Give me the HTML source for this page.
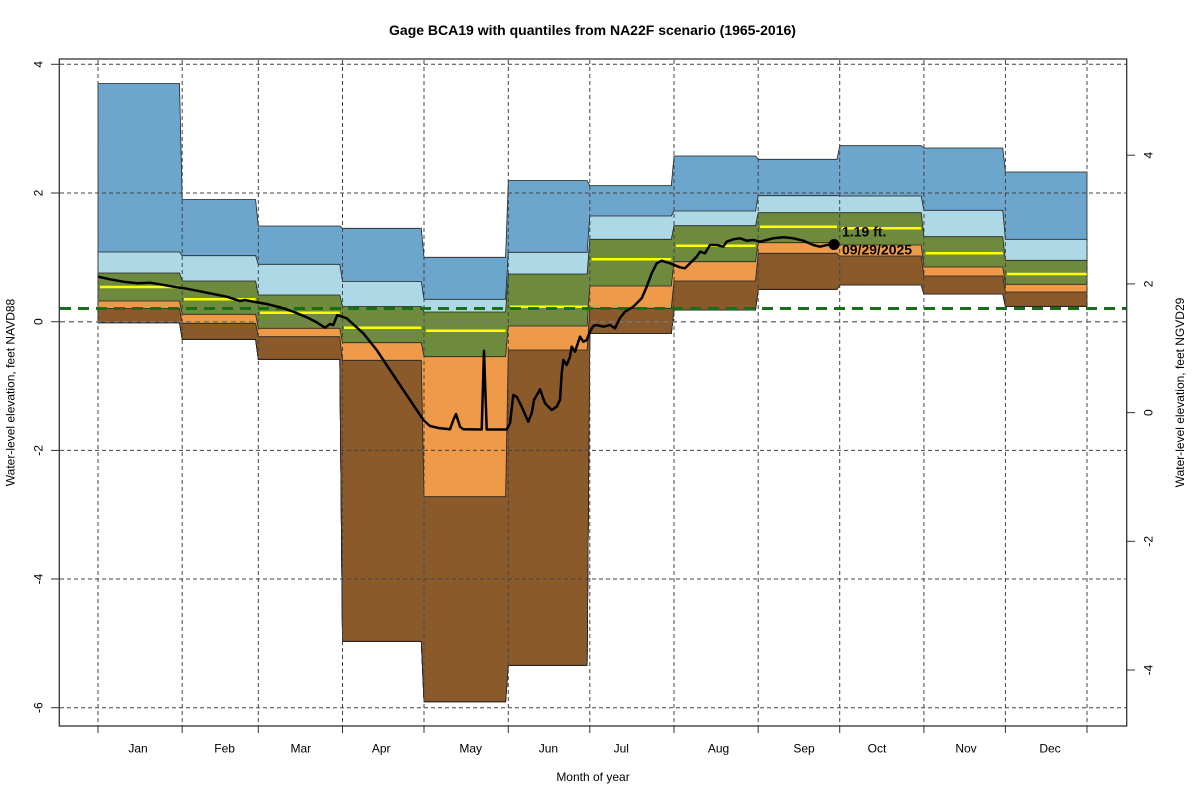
<!DOCTYPE html>
<html>
<head>
<meta charset="utf-8">
<style>
  html,body{margin:0;padding:0;background:#fff;}
  svg{display:block;}
  text{font-family:"Liberation Sans",Arial,sans-serif;fill:#000;}
</style>
</head>
<body>
<svg width="1200" height="800" viewBox="0 0 1200 800" xmlns="http://www.w3.org/2000/svg">
  <rect x="0" y="0" width="1200" height="800" fill="#fff"/>

  <!-- Bands -->
  <g stroke="#222" stroke-width="0.8" stroke-linejoin="miter">
    <polygon fill="#6CA6CD" points="98,83.5 179.5,83.5 182.2,199.5 255.6,199.5 258.3,226 339.8,226 342.5,228.3 421.3,228.3 424,257.3 505.6,257.3 508.3,180.5 587.1,180.5 589.8,185.7 671.3,185.7 674,156 755.5,156 758.2,159.3 837,159.3 839.7,145.7 921.2,145.7 923.9,148 1002.8,148 1005.4,172 1087,172 1087,306.3 1005.4,306.3 1002.8,294 923.9,294 921.2,285 839.7,285 837,289.3 758.2,289.3 755.5,310 674,310 671.3,333.5 589.8,333.5 587.1,665.3 508.3,665.3 505.6,701.7 424,701.7 421.3,641.3 342.5,641.3 339.8,359.3 258.3,359.3 255.6,339.3 182.2,339.3 179.5,322.7 98,322.7"/>
    <polygon fill="#ADD8E6" points="98,252 179.5,252 182.2,255.7 255.6,255.7 258.3,264.3 339.8,264.3 342.5,281.5 421.3,281.5 424,299.3 505.6,299.3 508.3,252.3 587.1,252.3 589.8,216 671.3,216 674,211 755.5,211 758.2,195.7 837,195.7 839.7,196 921.2,196 923.9,210.3 1002.8,210.3 1005.4,239.3 1087,239.3 1087,306.3 1005.4,306.3 1002.8,294 923.9,294 921.2,285 839.7,285 837,289.3 758.2,289.3 755.5,310 674,310 671.3,333.5 589.8,333.5 587.1,665.3 508.3,665.3 505.6,701.7 424,701.7 421.3,641.3 342.5,641.3 339.8,359.3 258.3,359.3 255.6,339.3 182.2,339.3 179.5,322.7 98,322.7"/>
    <polygon fill="#6E8B3D" points="98,273 179.5,273 182.2,281 255.6,281 258.3,295 339.8,295 342.5,306.5 421.3,306.5 424,312 505.6,312 508.3,274 587.1,274 589.8,239.3 671.3,239.3 674,225.7 755.5,225.7 758.2,212.7 837,212.7 839.7,212.7 921.2,212.7 923.9,236.7 1002.8,236.7 1005.4,260.3 1087,260.3 1087,306.3 1005.4,306.3 1002.8,294 923.9,294 921.2,285 839.7,285 837,289.3 758.2,289.3 755.5,310 674,310 671.3,333.5 589.8,333.5 587.1,665.3 508.3,665.3 505.6,701.7 424,701.7 421.3,641.3 342.5,641.3 339.8,359.3 258.3,359.3 255.6,339.3 182.2,339.3 179.5,322.7 98,322.7"/>
    <polygon fill="#EE9A49" points="98,301 179.5,301 182.2,314.3 255.6,314.3 258.3,328.3 339.8,328.3 342.5,342.7 421.3,342.7 424,356.7 505.6,356.7 508.3,326 587.1,326 589.8,286 671.3,286 674,261.7 755.5,261.7 758.2,242.7 837,242.7 839.7,245 921.2,245 923.9,267 1002.8,267 1005.4,284.3 1087,284.3 1087,306.3 1005.4,306.3 1002.8,294 923.9,294 921.2,285 839.7,285 837,289.3 758.2,289.3 755.5,310 674,310 671.3,333.5 589.8,333.5 587.1,665.3 508.3,665.3 505.6,701.7 424,701.7 421.3,641.3 342.5,641.3 339.8,359.3 258.3,359.3 255.6,339.3 182.2,339.3 179.5,322.7 98,322.7"/>
    <polygon fill="#8B5A2B" points="98,308.5 179.5,308.5 182.2,323.3 255.6,323.3 258.3,336.7 339.8,336.7 342.5,360.3 421.3,360.3 424,496.7 505.6,496.7 508.3,350 587.1,350 589.8,308.3 671.3,308.3 674,281 755.5,281 758.2,253.3 837,253.3 839.7,256 921.2,256 923.9,276 1002.8,276 1005.4,292 1087,292 1087,306.3 1005.4,306.3 1002.8,294 923.9,294 921.2,285 839.7,285 837,289.3 758.2,289.3 755.5,310 674,310 671.3,333.5 589.8,333.5 587.1,665.3 508.3,665.3 505.6,701.7 424,701.7 421.3,641.3 342.5,641.3 339.8,359.3 258.3,359.3 255.6,339.3 182.2,339.3 179.5,322.7 98,322.7"/>
  </g>

  <!-- Median lines -->
  <g stroke="#FFFF00" stroke-width="2.5">
    <line x1="100" y1="287" x2="179.5" y2="287"/>
    <line x1="184" y1="299.3" x2="255.6" y2="299.3"/>
    <line x1="260" y1="312.7" x2="339.8" y2="312.7"/>
    <line x1="344" y1="327.7" x2="421.3" y2="327.7"/>
    <line x1="426" y1="330.7" x2="505.6" y2="330.7"/>
    <line x1="510" y1="306.7" x2="587.1" y2="306.7"/>
    <line x1="591.5" y1="259.3" x2="671.3" y2="259.3"/>
    <line x1="676" y1="245.7" x2="755.5" y2="245.7"/>
    <line x1="760" y1="226.7" x2="837" y2="226.7"/>
    <line x1="841.5" y1="228.3" x2="921.2" y2="228.3"/>
    <line x1="925.5" y1="253.3" x2="1002.8" y2="253.3"/>
    <line x1="1007" y1="274" x2="1087" y2="274"/>
  </g>

  <!-- Grid -->
  <g stroke="#444" stroke-width="1" stroke-dasharray="4,3" fill="none">
    <line x1="60" y1="64.3" x2="1126" y2="64.3"/>
    <line x1="60" y1="193" x2="1126" y2="193"/>
    <line x1="60" y1="450.4" x2="1126" y2="450.4"/>
    <line x1="60" y1="579" x2="1126" y2="579"/>
    <line x1="60" y1="707.7" x2="1126" y2="707.7"/>
    <line x1="98" y1="60" x2="98" y2="726"/>
    <line x1="182.2" y1="60" x2="182.2" y2="726"/>
    <line x1="258.3" y1="60" x2="258.3" y2="726"/>
    <line x1="342.5" y1="60" x2="342.5" y2="726"/>
    <line x1="424" y1="60" x2="424" y2="726"/>
    <line x1="508.3" y1="60" x2="508.3" y2="726"/>
    <line x1="589.8" y1="60" x2="589.8" y2="726"/>
    <line x1="674" y1="60" x2="674" y2="726"/>
    <line x1="758.2" y1="60" x2="758.2" y2="726"/>
    <line x1="839.7" y1="60" x2="839.7" y2="726"/>
    <line x1="923.9" y1="60" x2="923.9" y2="726"/>
    <line x1="1005.4" y1="60" x2="1005.4" y2="726"/>
    <line x1="1087" y1="60" x2="1087" y2="726"/>
  </g>
  <line x1="60" y1="321.7" x2="1126" y2="321.7" stroke="#777" stroke-width="1.5" stroke-dasharray="5,4"/>

  <!-- Green dashed reference line -->
  <line x1="60" y1="308.5" x2="1126" y2="308.5" stroke="#1a6e1a" stroke-width="3" stroke-dasharray="11,7"/>

  <!-- Water level line -->
  <polyline fill="none" stroke="#000" stroke-width="2.5" stroke-linejoin="round" points="98.3,276.7 110,279.3 123.3,281.7 136.7,283.3 150,282.7 160,284.3 173.3,286.7 186.7,288.7 200,291.3 213.3,294 226.7,296.7 240,301 245,300 253.3,301.7 266.7,304 280,307.3 293.3,311.7 306.7,317.3 316.7,322.3 325,327.7 330,324 333.3,325 337.3,315 346.7,318.3 363.3,333.3 376.7,350 390,370 403.3,390 416.7,410 423.3,420 430,426 440,428.3 450,429.3 453.3,420 456,414 460,426.7 463.3,429.3 481.7,429.5 484,350.7 486.7,429.5 506.7,429.5 510,423.3 513.3,395 516.7,396.7 521.7,406.7 528.3,421.7 531.7,413.3 534,400 540,389.3 545,403.3 551.7,410 556.7,406.7 560,400 561.7,373.3 563.3,360 566.7,365 570,356.7 571.7,346.7 575,351.7 576.7,346.7 580,336.7 583.3,341.7 586.7,340 590,331.7 593.3,326 596.7,325 603.3,326.7 610,325 615,328.3 620,318 625,311.7 633.3,306.7 641.7,298.3 646.7,286.7 651.7,273.3 656.7,263.3 661.7,260.7 670,263.3 680,267.3 685,268.3 690,263.3 696.7,256.7 700,251.7 705,253.3 710,245 716.7,245 723.3,246.7 726.7,241.7 733.3,239.3 740,238.3 746.7,240.7 753.3,240 760,241.7 766.7,240 773.3,238.3 783.3,237.3 793.3,238.3 803.3,240.7 813.3,245 820,246.7 826.7,245 834,244.5"/>
  <circle cx="834" cy="244.5" r="5.5" fill="#000"/>
  <text x="842" y="236.5" font-size="14" font-weight="bold">1.19 ft.</text>
  <text x="842" y="254.5" font-size="14" font-weight="bold">09/29/2025</text>

  <!-- Plot box -->
  <rect x="59.3" y="59" width="1067.4" height="667" fill="none" stroke="#333" stroke-width="1.3"/>

  <!-- Left axis ticks -->
  <g stroke="#333" stroke-width="1">
    <line x1="51" y1="64.3" x2="59.3" y2="64.3"/>
    <line x1="51" y1="193" x2="59.3" y2="193"/>
    <line x1="51" y1="321.7" x2="59.3" y2="321.7"/>
    <line x1="51" y1="450.4" x2="59.3" y2="450.4"/>
    <line x1="51" y1="579" x2="59.3" y2="579"/>
    <line x1="51" y1="707.7" x2="59.3" y2="707.7"/>
    <!-- right -->
    <line x1="1126.7" y1="155.2" x2="1135" y2="155.2"/>
    <line x1="1126.7" y1="283.9" x2="1135" y2="283.9"/>
    <line x1="1126.7" y1="412.6" x2="1135" y2="412.6"/>
    <line x1="1126.7" y1="541.3" x2="1135" y2="541.3"/>
    <line x1="1126.7" y1="670" x2="1135" y2="670"/>
    <!-- bottom -->
    <line x1="98" y1="726" x2="98" y2="733"/>
    <line x1="182.2" y1="726" x2="182.2" y2="733"/>
    <line x1="258.3" y1="726" x2="258.3" y2="733"/>
    <line x1="342.5" y1="726" x2="342.5" y2="733"/>
    <line x1="424" y1="726" x2="424" y2="733"/>
    <line x1="508.3" y1="726" x2="508.3" y2="733"/>
    <line x1="589.8" y1="726" x2="589.8" y2="733"/>
    <line x1="674" y1="726" x2="674" y2="733"/>
    <line x1="758.2" y1="726" x2="758.2" y2="733"/>
    <line x1="839.7" y1="726" x2="839.7" y2="733"/>
    <line x1="923.9" y1="726" x2="923.9" y2="733"/>
    <line x1="1005.4" y1="726" x2="1005.4" y2="733"/>
    <line x1="1087" y1="726" x2="1087" y2="733"/>
  </g>

  <!-- Left tick labels -->
  <g font-size="12" text-anchor="middle">
    <text transform="translate(42.5,64.3) rotate(-90)">4</text>
    <text transform="translate(42.5,193) rotate(-90)">2</text>
    <text transform="translate(42.5,321.7) rotate(-90)">0</text>
    <text transform="translate(42.5,450.4) rotate(-90)">-2</text>
    <text transform="translate(42.5,579) rotate(-90)">-4</text>
    <text transform="translate(42.5,707.7) rotate(-90)">-6</text>
    <text transform="translate(1152.5,155.2) rotate(-90)">4</text>
    <text transform="translate(1152.5,283.9) rotate(-90)">2</text>
    <text transform="translate(1152.5,412.6) rotate(-90)">0</text>
    <text transform="translate(1152.5,541.3) rotate(-90)">-2</text>
    <text transform="translate(1152.5,670) rotate(-90)">-4</text>
  </g>

  <!-- Month labels -->
  <g font-size="12" text-anchor="middle">
    <text x="138" y="752.5">Jan</text>
    <text x="224.6" y="752.5">Feb</text>
    <text x="300.8" y="752.5">Mar</text>
    <text x="381.2" y="752.5">Apr</text>
    <text x="470.7" y="752.5">May</text>
    <text x="548.4" y="752.5">Jun</text>
    <text x="621.3" y="752.5">Jul</text>
    <text x="718.5" y="752.5">Aug</text>
    <text x="804" y="752.5">Sep</text>
    <text x="877" y="752.5">Oct</text>
    <text x="966" y="752.5">Nov</text>
    <text x="1050" y="752.5">Dec</text>
  </g>

  <!-- Axis titles -->
  <text x="593" y="781" font-size="12" text-anchor="middle">Month of year</text>
  <text transform="translate(14.5,392.5) rotate(-90)" font-size="12" text-anchor="middle">Water-level elevation, feet NAVD88</text>
  <text transform="translate(1184,392.5) rotate(-90)" font-size="12" text-anchor="middle">Water-level elevation, feet NGVD29</text>

  <!-- Title -->
  <text x="592.5" y="35" font-size="14" font-weight="bold" text-anchor="middle">Gage BCA19 with quantiles from NA22F scenario (1965-2016)</text>
</svg>
</body>
</html>
